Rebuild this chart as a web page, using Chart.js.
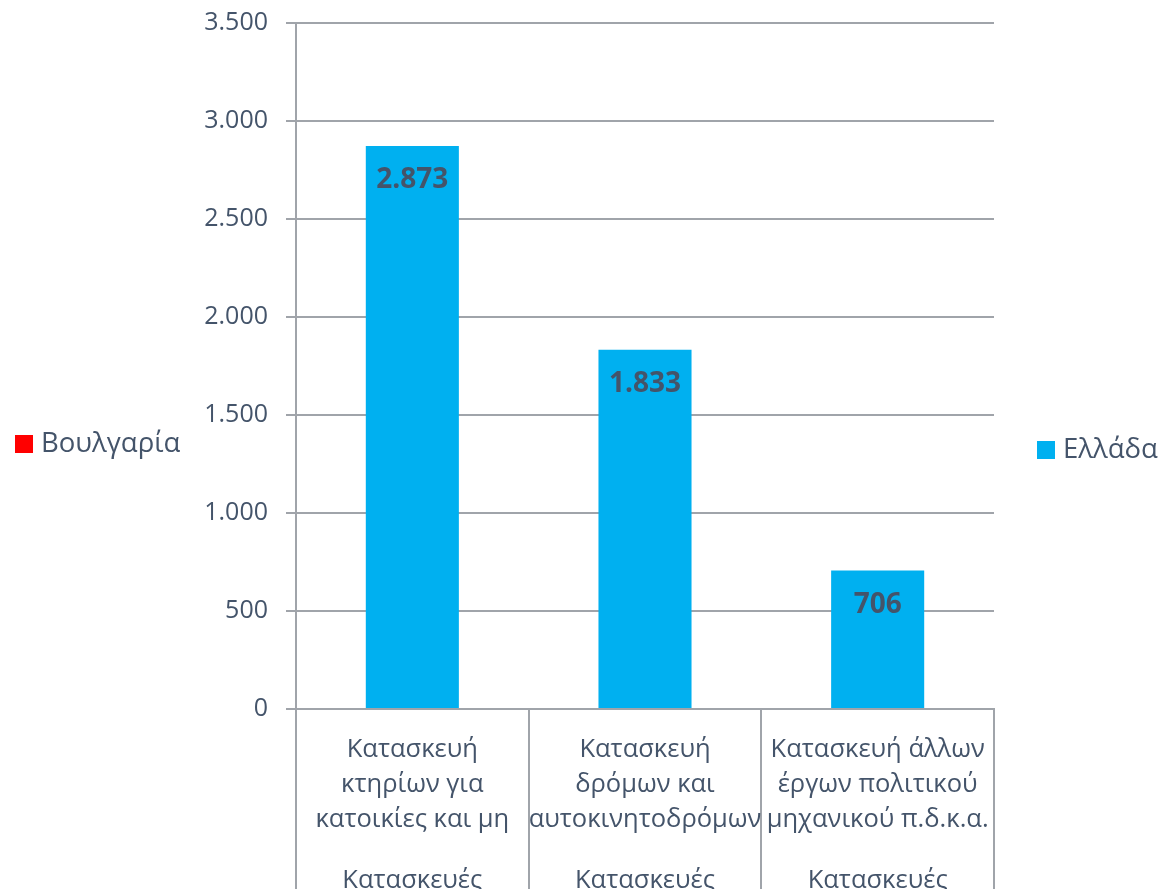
<!DOCTYPE html>
<html>
<head>
<meta charset="utf-8">
<script src="https://cdn.jsdelivr.net/npm/chart.js@4/dist/chart.umd.min.js"></script>
<style>
  html, body { margin: 0; padding: 0; background: #ffffff; }
  #wrap { width: 1164px; height: 889px; position: relative; }
</style>
</head>
<body>
<div id="wrap"><canvas id="c"></canvas></div>
<script>
// ---- data ----
const categories = [
  ["Κατασκευή", "κτηρίων για", "κατοικίες και μη"],
  ["Κατασκευή", "δρόμων και", "αυτοκινητοδρόμων"],
  ["Κατασκευή άλλων", "έργων πολιτικού", "μηχανικού π.δ.κ.α."]
];
const groupLabels = ["Κατασκευές", "Κατασκευές", "Κατασκευές"];
const seriesNames = ["Βουλγαρία", "Ελλάδα"];
const bulgariaValues = [null, null, null];
const greeceValues = [2873, 1833, 706];
const yTicks = [0, 500, 1000, 1500, 2000, 2500, 3000, 3500];

const TEXT = '#44546A';
const GRID = '#A0A4AA';
const FONT = "'Open Sans', 'Noto Sans', sans-serif";

function fmt(v) {
  return String(v).replace(/\B(?=(\d{3})+(?!\d))/g, '.');
}

const valueLabels = {
  id: 'valueLabels',
  afterDatasetsDraw(chart) {
    const ctx = chart.ctx;
    chart.data.datasets.forEach((ds, di) => {
      const meta = chart.getDatasetMeta(di);
      meta.data.forEach((bar, i) => {
        const v = ds.data[i];
        if (v === null || v === undefined) return;
        ctx.save();
        ctx.font = "bold 28px " + FONT;
        ctx.fillStyle = TEXT;
        ctx.textAlign = 'center';
        ctx.textBaseline = 'middle';
        ctx.fillText(fmt(v), bar.x, bar.y + 34);
        ctx.restore();
      });
    });
  }
};

const splitLegend = {
  id: 'splitLegend',
  afterDraw(chart) {
    const ctx = chart.ctx;
    const spots = [{ x: 15, y: 444 }, { x: 1037, y: 450 }];
    chart.data.datasets.forEach((ds, di) => {
      const p = spots[di];
      ctx.save();
      ctx.fillStyle = ds.backgroundColor;
      ctx.fillRect(p.x, p.y - 9, 18, 18);
      ctx.font = "27.5px " + FONT;
      ctx.fillStyle = TEXT;
      ctx.textAlign = 'left';
      ctx.textBaseline = 'middle';
      ctx.fillText(ds.label, p.x + 26, p.y);
      ctx.restore();
    });
  }
};

new Chart(document.getElementById('c'), {
  type: 'bar',
  data: {
    labels: categories,
    datasets: [
      { label: seriesNames[0], data: bulgariaValues, backgroundColor: '#FF0000', skipNull: true,
        categoryPercentage: 0.5, barPercentage: 0.8 },
      { label: seriesNames[1], data: greeceValues, backgroundColor: '#00B0F0', skipNull: true,
        categoryPercentage: 0.5, barPercentage: 0.8 }
    ]
  },
  options: {
    responsive: true,
    maintainAspectRatio: false,
    animation: false,
    layout: { padding: { left: 0, right: 170, top: 23, bottom: 0 } },
    plugins: {
      legend: { display: false },
      tooltip: { enabled: false }
    },
    scales: {
      y: {
        min: 0,
        max: 3500,
        afterBuildTicks(scale) { scale.ticks = yTicks.map(v => ({ value: v })); },
        afterFit(scale) { scale.width = 296; scale.paddingTop = 0; scale.paddingBottom = 0; },
        ticks: {
          callback: v => fmt(v),
          color: TEXT,
          font: { family: FONT, size: 25 },
          padding: 18
        },
        grid: { color: GRID, lineWidth: 2, tickLength: 10 },
        border: { display: true, color: GRID, width: 2 }
      },
      x: {
        weight: 0,
        afterFit(scale) { scale.height = 130; scale.paddingLeft = 0; scale.paddingRight = 0; },
        ticks: {
          color: TEXT,
          font: { family: FONT, size: 25.5, lineHeight: 1.375 },
          padding: -157,
          autoSkip: false,
          maxRotation: 0
        },
        grid: { drawOnChartArea: false, offset: true, color: GRID, lineWidth: 2, tickLength: 180 },
        border: { display: true, color: GRID, width: 2 }
      },
      x2: {
        type: 'category',
        position: 'bottom',
        weight: 1,
        labels: groupLabels,
        offset: true,
        afterFit(scale) { scale.height = 50; scale.paddingLeft = 0; scale.paddingRight = 0; },
        ticks: {
          color: TEXT,
          font: { family: FONT, size: 25.5, lineHeight: 1.375 },
          padding: 16,
          autoSkip: false,
          maxRotation: 0
        },
        grid: { display: false },
        border: { display: false }
      }
    }
  },
  plugins: [valueLabels, splitLegend]
});
</script>
</body>
</html>
